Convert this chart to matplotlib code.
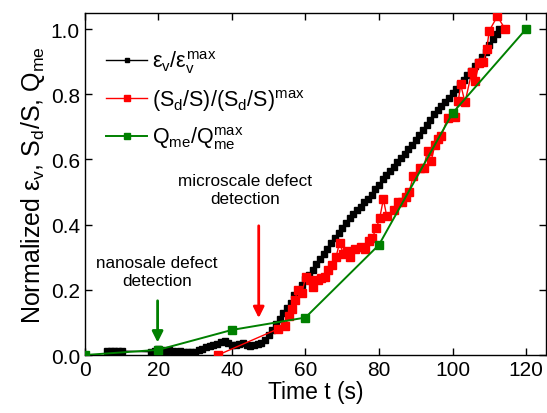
import matplotlib
matplotlib.use("Agg")
import matplotlib.pyplot as plt

plt.rcParams["font.family"] = ["Liberation Sans", "DejaVu Sans"]
plt.rcParams["mathtext.fontset"] = "custom"
plt.rcParams["mathtext.rm"] = "Liberation Sans"
plt.rcParams["mathtext.it"] = "Liberation Sans"
plt.rcParams["mathtext.bf"] = "Liberation Sans:bold"

# volumetric strain (black)
t_eps = [6, 7, 8, 9, 10,
         18, 19, 20, 21, 22, 23, 24, 25, 26, 27, 28, 29, 30, 31, 32, 33, 34, 35, 36, 37, 38, 39,
         40, 41, 42, 43, 44, 45, 46, 47, 48, 49, 50, 51, 52, 53, 54, 55, 56, 57, 58, 59,
         60, 61, 62, 63, 64, 65, 66, 67, 68, 69, 70, 71, 72, 73, 74, 75, 76, 77, 78, 79,
         80, 81, 82, 83, 84, 85, 86, 87, 88, 89, 90, 91, 92, 93, 94, 95, 96, 97, 98, 99,
         100, 101, 102, 103, 104, 105, 106, 107, 108, 109, 110, 111, 112, 112.6]
eps = [0.012, 0.013, 0.012, 0.013, 0.012,
       0.010, 0.012, 0.018, 0.016, 0.012, 0.014, 0.012, 0.010, 0.012, 0.010, 0.008, 0.008, 0.010,
       0.016, 0.020, 0.025, 0.028, 0.030, 0.035, 0.040, 0.042, 0.038,
       0.032, 0.030, 0.035, 0.037, 0.030, 0.028, 0.032, 0.035, 0.038, 0.045, 0.060, 0.078, 0.095,
       0.110, 0.130, 0.145, 0.160, 0.185, 0.200, 0.215,
       0.232, 0.245, 0.260, 0.280, 0.295, 0.310, 0.325, 0.345, 0.360, 0.375, 0.390, 0.405, 0.420,
       0.432, 0.445, 0.455, 0.468, 0.480, 0.492, 0.508,
       0.522, 0.540, 0.552, 0.565, 0.578, 0.592, 0.605, 0.618, 0.632, 0.645, 0.660, 0.675, 0.690,
       0.705, 0.720, 0.738, 0.752, 0.765, 0.775, 0.790,
       0.805, 0.815, 0.830, 0.845, 0.858, 0.872, 0.888, 0.900, 0.915, 0.930, 0.950, 0.970, 0.985, 1.000]

# defect area ratio (red)
t_sd = [36.2, 52.5, 54.5, 55.5, 56.3, 57.1, 58.0, 59.0, 60.1, 61.2, 62.1, 63.3, 64.3, 65.3, 66.2,
        67.3, 68.3, 69.3, 70.3, 71.3, 72.1, 73.6, 75.0, 76.3, 77.3, 78.2, 79.3, 80.2, 81.2, 82.1,
        84.2, 85.3, 86.2, 87.3, 88.2, 89.3, 91.2, 92.2, 93.2, 94.2, 95.2, 96.1, 97.0, 98.7, 100.8,
        101.6, 102.2, 103.4, 105.2, 106.1, 107.3, 108.4, 109.3, 110.0, 112.2, 114.3]
sd = [0.0, 0.08, 0.09, 0.12, 0.14, 0.17, 0.20, 0.19, 0.24, 0.23, 0.21, 0.23, 0.235, 0.24, 0.26,
      0.275, 0.30, 0.345, 0.31, 0.32, 0.30, 0.325, 0.33, 0.325, 0.35, 0.36, 0.39, 0.42, 0.478, 0.427,
      0.445, 0.468, 0.468, 0.485, 0.50, 0.548, 0.575, 0.575, 0.627, 0.596, 0.644, 0.663, 0.673, 0.728, 0.73,
      0.78, 0.831, 0.775, 0.867, 0.842, 0.896, 0.898, 0.939, 0.995, 1.039, 1.0]

# mechanical energy (green)
t_q = [0, 20, 40, 60, 80, 100, 120]
q = [0.0, 0.016, 0.077, 0.115, 0.338, 0.742, 1.0]

fig = plt.figure(figsize=(5.47, 4.14), dpi=100)
ax = fig.add_axes([0.155, 0.14, 0.843, 0.826])

ax.plot(t_eps, eps, color="black", marker="s", markersize=4, linewidth=1,
        label=r"$\varepsilon_{\rm v}/\varepsilon_{\rm v}^{\rm max}$", zorder=3)
ax.plot(t_sd, sd, color="red", marker="s", markersize=5.5, linewidth=1,
        label=r"$({\rm S_d/S})/({\rm S_d/S})^{\rm max}$", zorder=4)
ax.plot(t_q, q, color="green", marker="s", markersize=5.5, linewidth=1.4,
        label=r"${\rm Q_{me}/Q_{me}^{max}}$", zorder=5)

ax.set_xlim(0, 125.4)
ax.set_ylim(0, 1.049)
ax.set_xticks([0, 20, 40, 60, 80, 100, 120])
ax.set_yticks([0.0, 0.2, 0.4, 0.6, 0.8, 1.0])
ax.set_yticklabels(["0.0", "0.2", "0.4", "0.6", "0.8", "1.0"])
ax.tick_params(direction="in", top=True, right=True, length=5, width=1, labelsize=15)
for s in ax.spines.values():
    s.set_linewidth(1)

ax.set_xlabel("Time t (s)", fontsize=16.5, labelpad=1)
ax.set_ylabel(r"Normalized $\varepsilon_{\rm v}$, S$_{\rm d}$/S, Q$_{\rm me}$", fontsize=18, labelpad=3)

ax.legend(loc="upper left", bbox_to_anchor=(0.0, 0.96), frameon=False, fontsize=15.5,
          handlelength=1.9, handletextpad=0.2, labelspacing=0.55, borderaxespad=0.6,
          markerscale=0.75)

# annotations
ax.text(19.6, 0.255, "nanosale defect\ndetection", ha="center", va="center", fontsize=12.3, linespacing=1.25)
ax.annotate("", xy=(19.8, 0.03), xytext=(19.8, 0.175),
            arrowprops=dict(arrowstyle="-|>", color="green", lw=2, mutation_scale=16))
ax.text(43.5, 0.508, "microscale defect\ndetection", ha="center", va="center", fontsize=12.3, linespacing=1.25)
ax.annotate("", xy=(47.3, 0.105), xytext=(47.3, 0.405),
            arrowprops=dict(arrowstyle="-|>", color="red", lw=2, mutation_scale=16))

fig.savefig("out.png", dpi=100)
